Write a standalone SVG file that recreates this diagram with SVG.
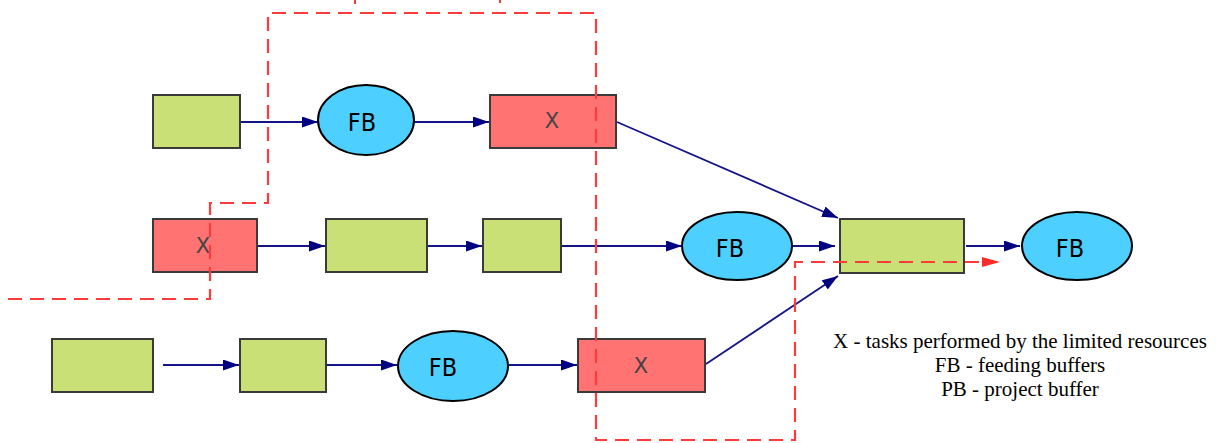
<svg xmlns="http://www.w3.org/2000/svg" width="1226" height="443" viewBox="0 0 1226 443">
<style>
.task{stroke:#3a3a3a;stroke-width:2}
.g{fill:#c8e076}
.r{fill:#ff7373}
.fb{fill:#4dd0ff;stroke:#000;stroke-width:2}
.lbl{font-family:"DejaVu Sans Condensed","DejaVu Sans",sans-serif;font-size:25px;fill:#000;text-anchor:middle}
.xl{font-family:"DejaVu Sans",sans-serif;font-size:21px;fill:#444;text-anchor:middle}
.conn{stroke:#14148a;stroke-width:1.8;fill:none;marker-end:url(#ah)}
.dash{stroke:#ff3a3a;stroke-width:2.2;fill:none;stroke-dasharray:14,8}
.leg{font-family:"Liberation Serif",serif;font-size:21px;fill:#000;text-anchor:middle}
</style>
<defs>
<marker id="ah" viewBox="0 0 16 11" refX="16" refY="5.5" markerWidth="16" markerHeight="11" markerUnits="userSpaceOnUse" orient="auto"><path d="M0,0 L16,5.5 L0,11 z" fill="#000080"/></marker>
</defs>
<rect width="1226" height="443" fill="#fff"/>
<g id="connectors">
<line class="conn" x1="240" y1="122" x2="318" y2="122"/>
<line class="conn" x1="414" y1="122" x2="489" y2="122"/>
<line class="conn" x1="617" y1="122" x2="838" y2="218"/>
<line class="conn" x1="257" y1="246" x2="325" y2="246"/>
<line class="conn" x1="428" y1="246" x2="482" y2="246"/>
<line class="conn" x1="562" y1="246" x2="682" y2="246"/>
<line class="conn" x1="793" y1="246" x2="835" y2="246"/>
<line class="conn" x1="966" y1="246" x2="1020" y2="246"/>
<line class="conn" x1="163" y1="365" x2="239" y2="365"/>
<line class="conn" x1="327" y1="365" x2="397" y2="365"/>
<line class="conn" x1="509" y1="365" x2="577" y2="365"/>
<line class="conn" x1="706" y1="364" x2="838" y2="276"/>
</g>
<g id="n1"><rect class="task g" x="153" y="95" width="87" height="53"/></g>
<g id="n2"><ellipse class="fb" cx="366" cy="120" rx="48" ry="35"/><text class="lbl" x="362" y="131">FB</text></g>
<g id="n3"><rect class="task r" x="490" y="95" width="126" height="53"/><text class="xl" x="552" y="128">X</text></g>
<g id="n4"><rect class="task r" x="153" y="219" width="104" height="53"/><text class="xl" x="203" y="253">X</text></g>
<g id="n5"><rect class="task g" x="326" y="219" width="101" height="53"/></g>
<g id="n6"><rect class="task g" x="483" y="219" width="78" height="53"/></g>
<g id="n7"><ellipse class="fb" cx="737" cy="246" rx="55" ry="34"/><text class="lbl" x="730" y="257">FB</text></g>
<g id="n8"><rect class="task g" x="840" y="219" width="124" height="54"/></g>
<g id="n9"><ellipse class="fb" cx="1077" cy="246" rx="55" ry="34"/><text class="lbl" x="1070" y="257">FB</text></g>
<g id="n10"><rect class="task g" x="52" y="339" width="101" height="53"/></g>
<g id="n11"><rect class="task g" x="240" y="339" width="86" height="53"/></g>
<g id="n12"><ellipse class="fb" cx="453" cy="366" rx="55" ry="35"/><text class="lbl" x="443" y="376">FB</text></g>
<g id="n13"><rect class="task r" x="578" y="339" width="127" height="53"/><text class="xl" x="641" y="373">X</text></g>
<g id="boundary">
<path class="dash" d="M8,299 H210 V203 H268 V13 H596 V440 H795 V262 H983"/>
<path d="M982,257 L1000,262 L982,267 z" fill="#ff2a2a"/>
<line x1="355" y1="0" x2="355" y2="4" stroke="#ff3a3a" stroke-width="2"/>
<line x1="500" y1="0" x2="500" y2="3" stroke="#ff3a3a" stroke-width="2"/>
</g>
<g id="legend">
<text class="leg" x="1020" y="348">X - tasks performed by the limited resources</text>
<text class="leg" x="1020" y="372">FB - feeding buffers</text>
<text class="leg" x="1020" y="396">PB - project buffer</text>
</g>
</svg>
